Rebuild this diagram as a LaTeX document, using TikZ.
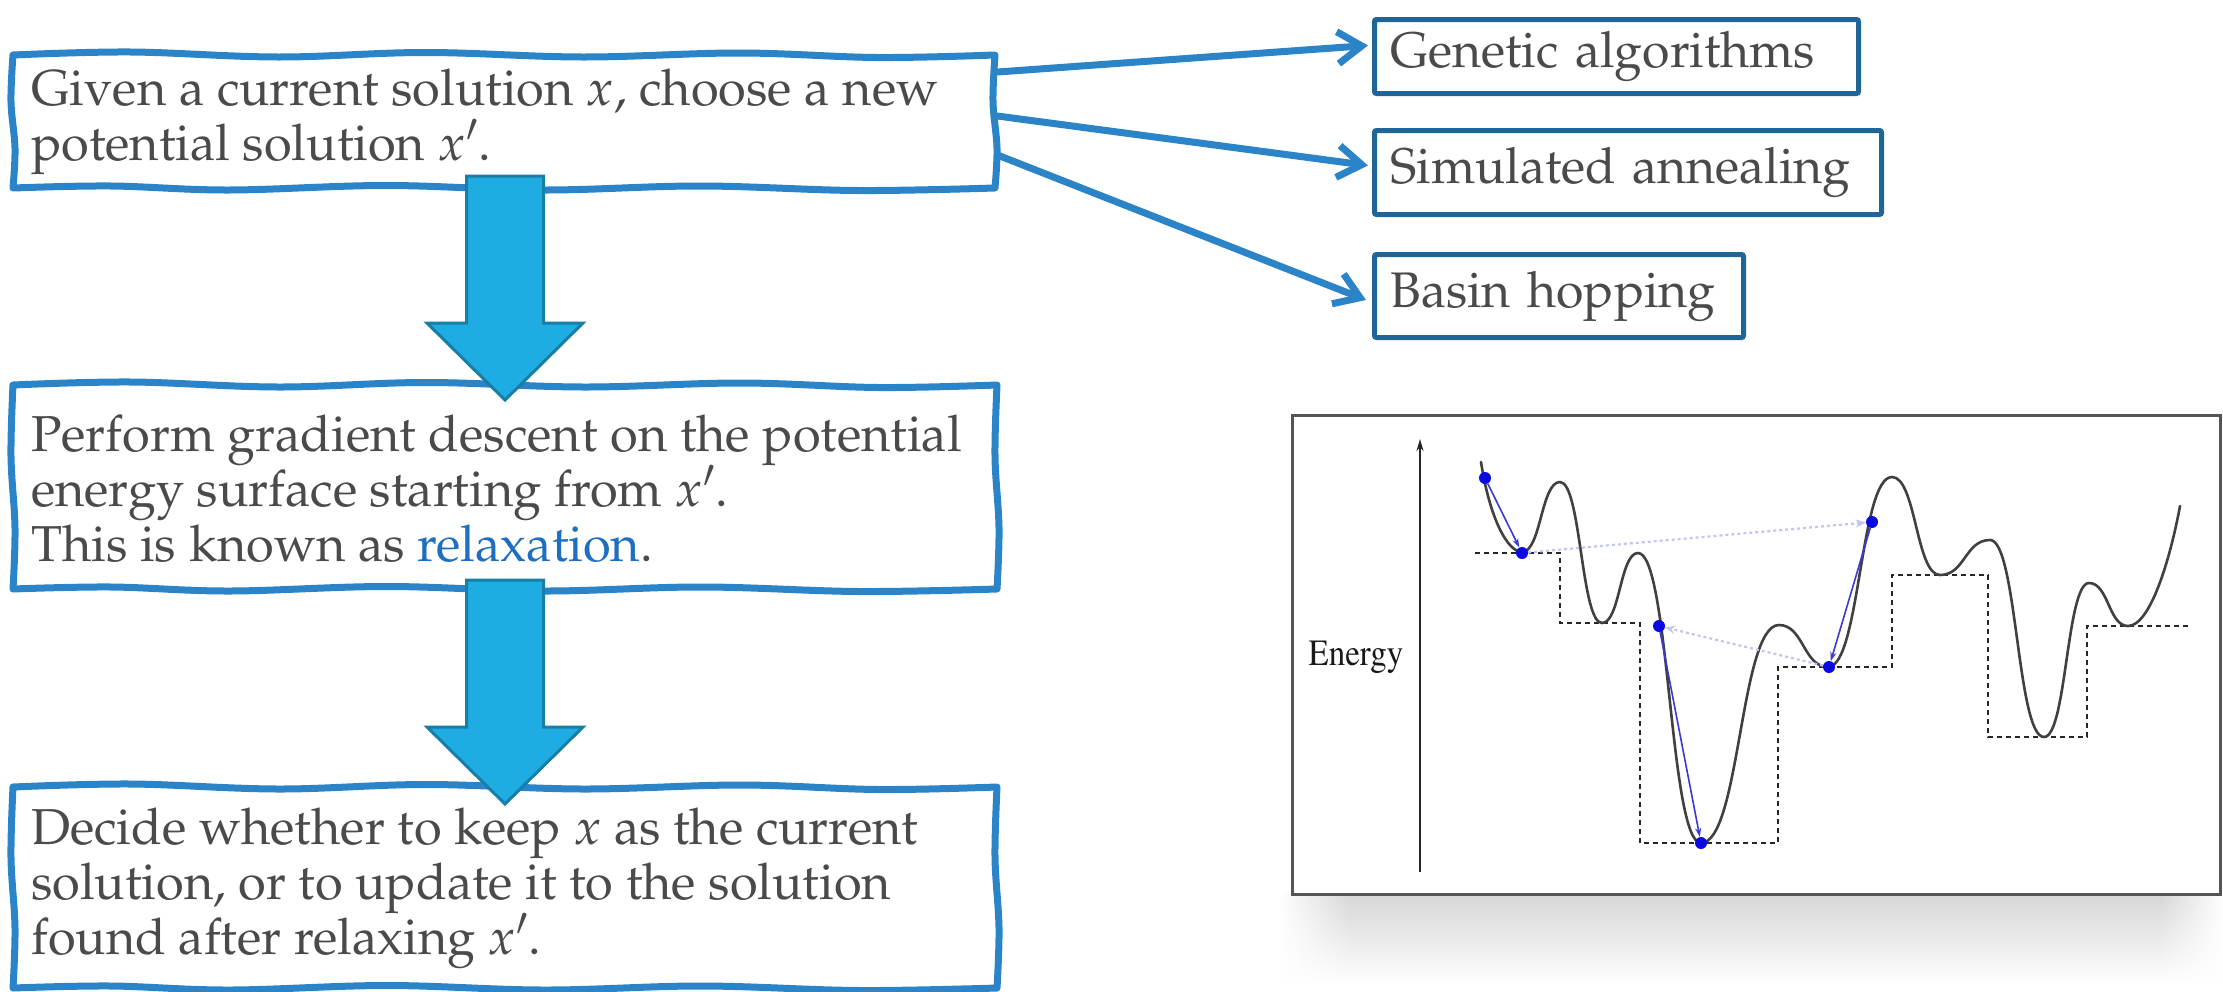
\documentclass[tikz,border=0pt]{standalone}
\usepackage[T1]{fontenc}
\usepackage{mathpazo}
\usetikzlibrary{arrows.meta,calc,fadings}

\definecolor{boxblue}{HTML}{2A84C7}
\definecolor{smallblue}{HTML}{1F6598}
\definecolor{arrfill}{HTML}{1FACE2}
\definecolor{arrdraw}{HTML}{177EA6}
\definecolor{txtgray}{HTML}{4A4A4A}
\definecolor{relblue}{HTML}{1F6FC0}
\definecolor{dotblue}{HTML}{0A0AE0}
\definecolor{thinblue}{HTML}{3A3AD0}
\definecolor{lav}{HTML}{C4C4F0}
\definecolor{framegray}{HTML}{555555}
\definecolor{curvegray}{HTML}{404040}

\tikzfading[name=fadedown, top color=transparent!10, bottom color=transparent!100]
\tikzfading[name=fadeleft, left color=transparent!0, right color=transparent!100]
\tikzfading[name=faderight, left color=transparent!100, right color=transparent!0]

\newcommand\wobbly[4]{%
\draw[wob] plot[smooth,tension=.6] coordinates {(#1,#2) ({#1+.12*(#3-#1)},{#2-3}) ({#1+.27*(#3-#1)},{#2+2}) ({#1+.42*(#3-#1)},{#2-2.5}) ({#1+.58*(#3-#1)},{#2+2}) ({#1+.74*(#3-#1)},{#2-2}) ({#1+.88*(#3-#1)},{#2+2.5}) (#3,#2)}
 -- plot[smooth,tension=.6] coordinates {(#3,#2) ({#3-2},{#2+.35*(#4-#2)}) ({#3+2},{#2+.7*(#4-#2)}) (#3,#4)}
 -- plot[smooth,tension=.6] coordinates {(#3,#4) ({#3-.14*(#3-#1)},{#4+2.5}) ({#3-.3*(#3-#1)},{#4-2}) ({#3-.46*(#3-#1)},{#4+2}) ({#3-.62*(#3-#1)},{#4-2.5}) ({#3-.78*(#3-#1)},{#4+2}) ({#3-.9*(#3-#1)},{#4-2}) (#1,#4)}
 -- plot[smooth,tension=.6] coordinates {(#1,#4) ({#1+2},{#4-.3*(#4-#2)}) ({#1-2},{#4-.65*(#4-#2)}) (#1,#2)} -- cycle;}

\begin{document}
\begin{tikzpicture}[x=1pt,y=-1pt,
  wob/.style={draw=boxblue, line width=7pt, line join=round, line cap=round},
  area/.style={draw=none, inner sep=0pt, anchor=north west},
  txt/.style={text=txtgray, inner sep=0pt, anchor=base west, font=\fontsize{50.5}{55}\selectfont},
  sbox/.style={draw=smallblue, line width=5pt, rounded corners=2pt, text=txtgray,
     font=\fontsize{50}{55}\selectfont, inner xsep=16pt, inner ysep=0pt, align=left, anchor=north west},
  conn/.style={draw=boxblue, line width=7pt, line cap=round, -{Straight Barb[length=24pt,width=32pt]}},
  blk/.style={fill=arrfill, draw=arrdraw, line width=3pt, line join=miter},
  dstep/.style={draw=black!85, line width=2.5pt, dash pattern=on 5pt off 4pt},
  bdot/.style={circle, fill=dotblue, inner sep=0pt, minimum size=12pt},
  relax/.style={draw=thinblue, line width=1.6pt, -{Stealth[length=9pt,width=6pt]}},
  hop/.style={draw=lav, line width=2.2pt, dash pattern=on 3pt off 3pt, -{Stealth[length=10pt,width=8pt]}}
]
\useasboundingbox (0,0) rectangle (2223,991);

% ---- left boxes ----
\node[area, minimum width=982, minimum height=133] (b1) at (13,55) {};
\node[area, minimum width=984, minimum height=204] (b2) at (13,385) {};
\node[area, minimum width=984, minimum height=201] (b3) at (13,787) {};

\wobbly{13}{55}{995}{188}
\wobbly{13}{385}{997}{589}
\wobbly{13}{787}{997}{988}

% block arrows between boxes
\begin{scope}[shift={(505,176)}]
\draw[blk] (-38.5,0) -- (38.5,0) -- (38.5,147) -- (78,147) -- (0,224) -- (-78,147) -- (-38.5,147) -- cycle;
\end{scope}
\begin{scope}[shift={(505,580)}]
\draw[blk] (-38.5,0) -- (38.5,0) -- (38.5,147) -- (78,147) -- (0,224) -- (-78,147) -- (-38.5,147) -- cycle;
\end{scope}

\node[txt] (t1) at (31,105) {\vtop{\hbox{Given a current solution $x$, choose a new}\hbox{potential solution $x'$.}}};
\node[txt] (t2) at (31,451) {\vtop{\hbox{Perform gradient descent on the potential}\hbox{energy surface starting from $x'$.}\hbox{This is known as \textcolor{relblue}{relaxation}.}}};
\node[txt] (t3) at (31,844) {\vtop{\hbox{Decide whether to keep $x$ as the current}\hbox{solution, or to update it to the solution}\hbox{found after relaxing $x'$.}}};

% ---- right boxes ----
\node[sbox, text width=452pt, minimum height=74pt] (ga) at (1372,17) {Genetic algorithms};
\node[sbox, text width=475pt, minimum height=84pt] (sa) at (1372,128) {Simulated annealing};
\node[sbox, text width=337pt, minimum height=83pt] (bh) at (1372,252) {Basin hopping};

\draw[conn] ($(b1.north east)+(2,17)$) -- ($(ga.west)+(-4,-11)$);
\draw[conn] ($(b1.north east)+(2,61)$) -- ($(sa.west)+(-4,-7)$);
\draw[conn] ($(b1.north east)+(2,100)$) -- ($(bh.west)+(-6,4)$);

% ---- energy landscape picture ----
\fill[black!18, path fading=fadedown] (1280,893) rectangle (2223,985);
\fill[white, path fading=fadeleft] (1279,890) rectangle (1350,986);
\fill[white, path fading=faderight] (2160,890) rectangle (2224,986);
\node[area, draw=framegray, line width=3pt, fill=white, minimum width=928, minimum height=479] (frame) at (1291,414) {};

\coordinate (axb) at (1420,872);
\coordinate (axt) at (1420,439);
\draw[black!85, line width=2pt, -{Stealth[length=12pt,width=7pt]}] (axb) -- (axt);
\node[font=\fontfamily{ptm}\fontsize{33}{33}\selectfont, text=black!90, inner sep=0pt] (en) at (1356,657) {\scalebox{1}[1.12]{Energy}};

\draw[dstep] (1475,553) -- (1560,553) -- (1560,623) -- (1640,623) -- (1640,843) -- (1778,843) -- (1778,667) -- (1892,667) -- (1892,575) -- (1988,575) -- (1988,737) -- (2087,737) -- (2087,626) -- (2188,626);

\draw[curvegray, line width=2.6pt, line cap=round]
 (1481,462) .. controls (1490,520) and (1508,552) .. (1522,552)
 .. controls (1541,552) and (1541,482) .. (1560,482)
 .. controls (1581,482) and (1581,623) .. (1602,623)
 .. controls (1620,623) and (1620,553) .. (1638,553)
 .. controls (1669.5,553) and (1669.5,843) .. (1701,843)
 .. controls (1740,843) and (1740,625) .. (1779,625)
 .. controls (1803.5,625) and (1803.5,667) .. (1828,667)
 .. controls (1860,667) and (1860,477) .. (1892,477)
 .. controls (1916,477) and (1916,575) .. (1940,575)
 .. controls (1965,575) and (1965,540) .. (1990,540)
 .. controls (2017,540) and (2017,737) .. (2044,737)
 .. controls (2066.5,737) and (2066.5,583) .. (2089,583)
 .. controls (2108.5,583) and (2108.5,626) .. (2128,626)
 .. controls (2150,626) and (2170,560) .. (2180,506);

\node[bdot] (d1) at (1485,478) {};
\node[bdot] (d2) at (1522,553) {};
\node[bdot] (d3) at (1659,626) {};
\node[bdot] (d4) at (1701,843) {};
\node[bdot] (d5) at (1829,667) {};
\node[bdot] (d6) at (1872,522) {};

\draw[relax] (d1) -- (d2);
\draw[relax] (d3) -- (d4);
\draw[relax] (d6) -- (d5);
\draw[hop] (d2) -- (d6);
\draw[hop] (d5) -- (d3);
\end{tikzpicture}
\end{document}
